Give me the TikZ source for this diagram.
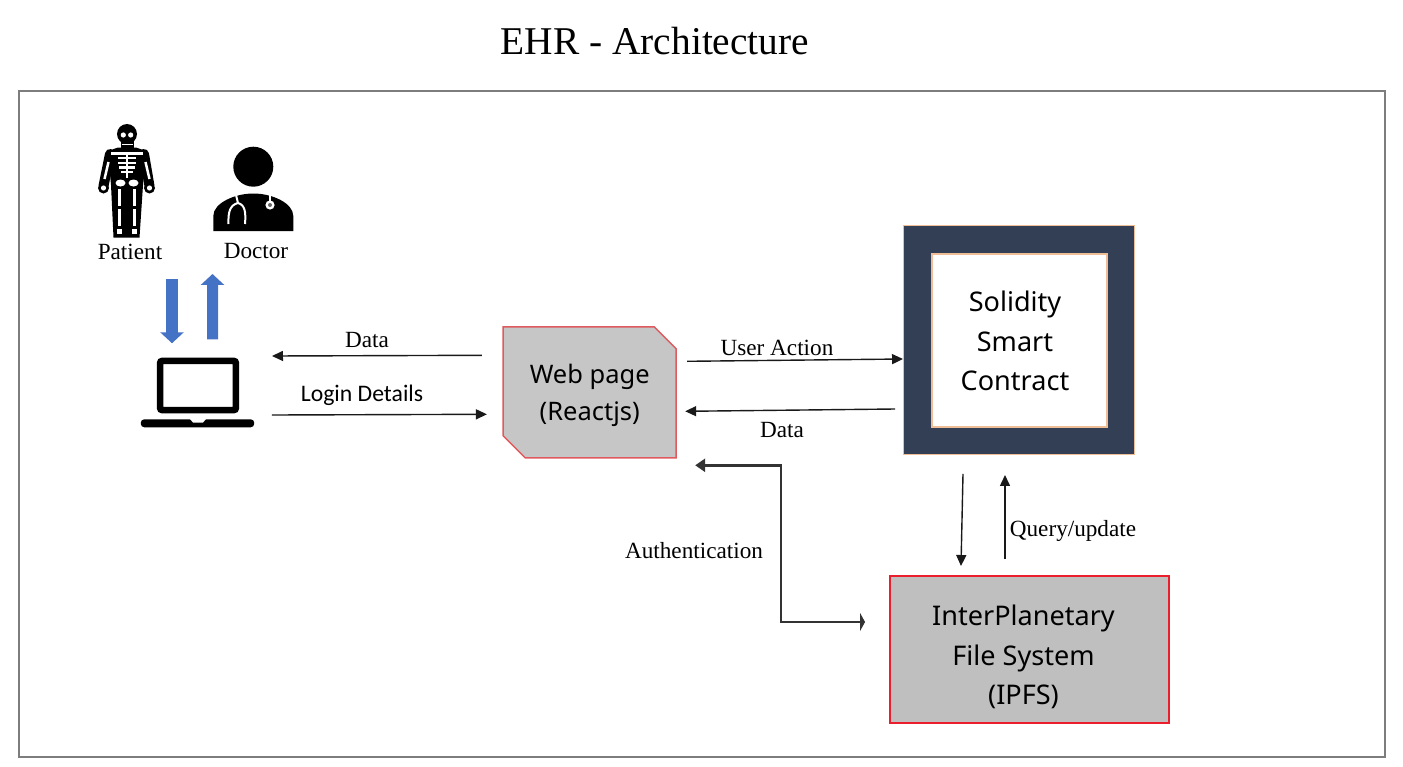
\documentclass[tikz,border=0pt]{standalone}
\usepackage{fontspec}
\usepackage{tikz}
\usetikzlibrary{arrows.meta,shapes.misc}
\setmainfont{Liberation Serif}
\newfontfamily\boxfont{Noto Sans}
\newfontfamily\loginfont{Carlito}
\definecolor{IconBlue}{RGB}{68,114,196}
\definecolor{BoxGray}{RGB}{191,191,191}
\definecolor{WebGray}{RGB}{198,198,198}
\definecolor{SmartNavy}{RGB}{50,63,84}
\definecolor{SmartEdge}{RGB}{240,190,150}
\definecolor{IpfsRed}{RGB}{235,30,45}
\definecolor{WebRed}{RGB}{222,90,95}
\definecolor{FrameGray}{RGB}{125,125,125}
\tikzset{
	lbl/.style={font=\fontsize{13.2}{16}\selectfont,inner sep=0pt},
	boxtext/.style={font=\boxfont\fontsize{15.4}{22.6}\selectfont,align=center,inner sep=0pt},
	webtext/.style={font=\boxfont\fontsize{14.5}{21}\selectfont,align=center,inner sep=0pt},
	link/.style={draw=black!90,line width=0.028cm,-{Triangle[length=0.22cm,width=0.2cm]}},
	bluelink/.style={draw=IconBlue,line width=0.23cm,-{Triangle[length=0.22cm,width=0.46cm]}},
	bone/.style={draw=white,line width=0.05cm},
	armline/.style={draw=black,line width=0.2cm,line cap=round},
}

\begin{document}
\begin{tikzpicture}[x=0.02cm,y=-0.02cm]
	\useasboundingbox (0,0) rectangle (1403,767);
	\node[draw=FrameGray,line width=0.04cm,minimum width=27.32cm,minimum height=13.32cm,inner sep=0pt,outer sep=0pt] (frame) at (702,424) {};
	\node[font=\fontsize{22.4}{26}\selectfont,inner sep=0pt] (title) at (655,41) {EHR - Architecture};

	% patient icon
	\fill (127,134) circle (10);
	\fill (120.5,140) rectangle (133.5,149);
	\fill[white] (123.3,135) circle (2.6);
	\fill[white] (130.7,135) circle (2.6);
	\draw[white,line width=0.02cm] (121.5,144.5) -- (132.5,144.5);
	\draw[armline] (110,154) -- (103.5,186);
	\draw[armline] (144,154) -- (149.5,186);
	\fill (118,147.5) -- (136,147.5) -- (146,151) -- (143,185) -- (139.5,237.5) -- (113.5,237.5) -- (111,185) -- (108,151) -- cycle;
	\fill (103.5,188) circle (5.5);
	\fill (149.5,188) circle (5.5);
	\fill[white] (103.5,188) circle (2.6);
	\fill[white] (149.5,188) circle (2.6);
	\draw[bone] (108.5,162) -- (104.5,179);
	\draw[bone] (145.5,162) -- (149.5,179);
	\draw[bone] (111,153.5) -- (143,153.5);
	\draw[bone] (127,153) -- (127,178);
	\foreach \ribY/\ribW in {158/9,163/9,167.5/8,172/6} {
		\draw[bone] (127-\ribW,\ribY) -- (127+\ribW,\ribY);
	}
	\fill[white] (120.5,183) ellipse (5 and 3.5);
	\fill[white] (133.5,183) ellipse (5 and 3.5);
	\foreach \legX in {119.5,134.5} {
		\draw[bone] (\legX,189) -- (\legX,206);
		\draw[bone] (\legX,209) -- (\legX,226);
		\fill[white] (\legX-2.5,229) rectangle (\legX+2.5,234);
	}

	% doctor icon
	\fill (253.3,166.7) circle (20);
	\fill (213.3,231) -- (213.3,216) .. controls (213.3,203) and (235,193.5) .. (253.3,193.5) .. controls (272,193.5) and (293.3,203) .. (293.3,216) -- (293.3,231) -- cycle;
	\draw[white,line width=0.04cm] (236,195) -- (238,203) .. controls (230,205) and (228,212) .. (228.5,224);
	\draw[white,line width=0.04cm] (238,203) .. controls (245,205) and (246,212) .. (245,224);
	\draw[white,line width=0.04cm] (270,193) -- (270,201);
	\fill[white] (270,205) circle (4.6);
	\fill[black!60] (270,205) circle (2);

	\node[lbl] (patient) at (130,252) {Patient};
	\node[lbl] (doctor) at (256,251) {Doctor};

	% laptop
	\node[draw=black,line width=0.13cm,rounded corners=0.05cm,minimum width=1.52cm,minimum height=0.99cm,inner sep=0pt,outer sep=0pt] (laptop) at (198,385.5) {};
	\node[fill=black,rounded corners=0.07cm,minimum width=2.27cm,minimum height=0.16cm,inner sep=0pt,outer sep=0pt] (laptopbase) at (197.5,423.3) {};
	\fill[white] (190,419) -- (206,419) -- (203,422.5) -- (193,422.5) -- cycle;

	% boxes
	\node[chamfered rectangle,chamfered rectangle corners={north east,south west},chamfered rectangle xsep=0.22cm,chamfered rectangle ysep=0.22cm,
		draw=WebRed,fill=WebGray,line width=0.03cm,minimum width=3.46cm,minimum height=2.62cm,inner sep=0pt,outer sep=0pt,
		webtext] (web) at (589.7,392.3) {\rule{0pt}{14.4pt}Web page\\(Reactjs)};
	\node[draw=SmartEdge,fill=SmartNavy,line width=0.02cm,minimum width=4.64cm,minimum height=4.6cm,inner sep=0pt,outer sep=0pt] (contract) at (1019,340) {};
	\node[draw=SmartEdge,fill=white,line width=0.04cm,minimum width=3.5cm,minimum height=3.46cm,inner sep=0pt,outer sep=0pt] (contractin) at (1019.5,340.5) {};
	\node[boxtext] (contracttext) at (1015,341) {Solidity\\Smart\\Contract};
	\node[draw=IpfsRed,fill=BoxGray,line width=0.04cm,minimum width=5.58cm,minimum height=2.94cm,inner sep=0pt,outer sep=0pt] (ipfs) at (1029.5,649.5) {};
	\node[boxtext] (ipfstext) at (1023.5,657) {InterPlanetary\\File System\\(IPFS)};

	% connectors
	\draw[bluelink] ([shift={(42,27)}]patient.center) -- ([shift={(-26,-17.5)}]laptop.north);
	\draw[bluelink,line width=0.22cm] ([shift={(14.5,-21.5)}]laptop.north) -- ([shift={(-43.5,23)}]doctor.center);
	\draw[link] ([shift={(-21.3,-37)}]web.west) -- ([shift={(36,-29.5)}]laptop.east);
	\draw[link] ([shift={(36,29.5)}]laptop.east) -- ([shift={(-16.3,22)}]web.west);
	\draw[link] ([shift={(11,-31)}]web.east) -- ([shift={(0,19)}]contract.west);
	\draw[link] ([shift={(-8,69)}]contract.west) -- ([shift={(9,19)}]web.east);
	\coordinate (authbend) at (781,545);
	\draw[draw=black!70,line width=0.05cm,{Triangle[length=0.2cm,width=0.26cm]}-{Triangle[length=0.1cm,width=0.36cm]},black!80] ([shift={(19,73)}]web.east) -| (authbend) |- ([shift={(-25,-27.5)}]ipfs.west);
	\draw[link] ([shift={(-56,19)}]contract.south) -- ([shift={(-68.5,-10)}]ipfs.north);
	\draw[link] ([shift={(-24.5,-17)}]ipfs.north) -- ([shift={(-14,20)}]contract.south);

	% labels
	\node[lbl] (datatop) at (367,340) {Data};
	\node[font=\loginfont\fontsize{13.5}{16}\selectfont,inner sep=0pt] (login) at (362,395) {Login Details};
	\node[lbl] (action) at (777,348) {User Action};
	\node[lbl] (databot) at (782,430) {Data};
	\node[lbl] (auth) at (694,551) {Authentication};
	\node[lbl] (query) at (1073,531) {Query/update};
\end{tikzpicture}
\end{document}
